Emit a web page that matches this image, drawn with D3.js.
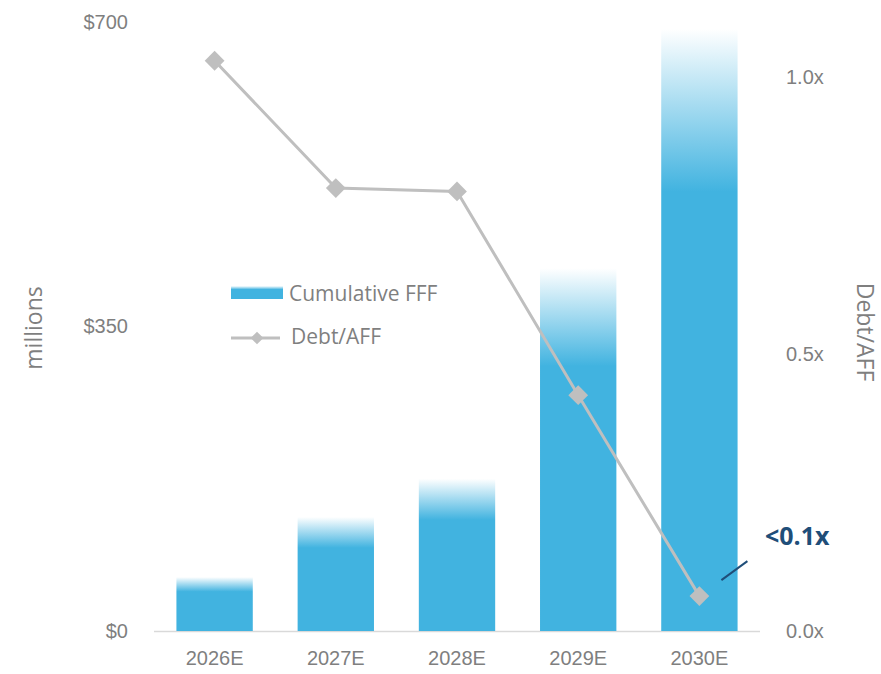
<!DOCTYPE html>
<meta charset="utf-8">
<style>
body,html{ margin:0; padding:0; background:#fff; }
svg{ display:block; font-family:"Open Sans","Liberation Sans",sans-serif; }
.tick text{ fill:#7f7f7f; font-size:20px; }
</style>
<svg width="881" height="674"></svg>
<script src="https://cdn.jsdelivr.net/npm/d3@7"></script>
<script>
var years = ["2026E","2027E","2028E","2029E","2030E"];
var fff = [62, 131, 175, 417, 692];           // cumulative FFF, $ millions
var debtAff = [1.03, 0.80, 0.794, 0.426, 0.063]; // Debt/AFF, x
var leftTicks = [0, 350, 700];
var rightTicks = [0, 0.5, 1.0];

var svg = d3.select("svg");
var m = {left:154, right:760, top:22, bottom:631};

var x = d3.scaleBand().domain(years).range([m.left, m.right]).paddingInner(0.37).paddingOuter(0.185);
var yL = d3.scaleLinear().domain([0,700]).range([m.bottom, m.top]);
var yR = d3.scaleLinear().domain([0,1.1]).range([m.bottom, m.top]);

var defs = svg.append("defs");
var grad = defs.append("linearGradient").attr("id","barGrad").attr("x1",0).attr("y1",0).attr("x2",0).attr("y2",1);
grad.append("stop").attr("offset","0%").attr("stop-color","#41b3e0").attr("stop-opacity",0);
grad.append("stop").attr("offset","27%").attr("stop-color","#41b3e0").attr("stop-opacity",1);
grad.append("stop").attr("offset","100%").attr("stop-color","#41b3e0").attr("stop-opacity",1);

// baseline
svg.append("line").attr("x1",m.left).attr("x2",m.right).attr("y1",m.bottom+0.5).attr("y2",m.bottom+0.5)
  .attr("stroke","#d9d9d9").attr("stroke-width",1.5);

svg.append("g").selectAll("rect").data(fff).enter().append("rect")
  .attr("x",(d,i)=>x(years[i]))
  .attr("width",x.bandwidth())
  .attr("y",d=>yL(d))
  .attr("height",d=>yL(0)-yL(d))
  .attr("fill","url(#barGrad)");

// line
var line = d3.line().x((d,i)=>x(years[i])+x.bandwidth()/2).y(d=>yR(d));
svg.append("path").datum(debtAff).attr("d",line).attr("fill","none")
  .attr("stroke","#bfbfbf").attr("stroke-width",3);
svg.append("g").selectAll("rect").data(debtAff).enter().append("rect")
  .attr("x",-7).attr("y",-7).attr("width",14).attr("height",14)
  .attr("fill","#bfbfbf")
  .attr("transform",(d,i)=>"translate("+(x(years[i])+x.bandwidth()/2)+","+yR(d)+") rotate(45)");

// axes
var axL = svg.append("g").attr("transform","translate("+(m.left-23)+",0)")
  .call(d3.axisLeft(yL).tickValues(leftTicks).tickSize(0).tickFormat(d=>"$"+d));
var axR = svg.append("g").attr("transform","translate("+(m.right+20)+",0)")
  .call(d3.axisRight(yR).tickValues(rightTicks).tickSize(0).tickFormat(d=>d.toFixed(1)+"x"));
var axX = svg.append("g").attr("transform","translate(0,"+(m.bottom+17)+")")
  .call(d3.axisBottom(x).tickSize(0));
[axL,axR,axX].forEach(a=>a.select(".domain").remove());
axL.selectAll("text").attr("dx",0);
axR.selectAll("text").attr("dx",3);

// axis titles
svg.append("text").attr("transform","translate(42,328) rotate(-90)").attr("text-anchor","middle")
  .attr("fill","#7f7f7f").attr("font-size",23).text("millions");
svg.append("text").attr("transform","translate(857,332) rotate(90)").attr("text-anchor","middle")
  .attr("fill","#7f7f7f").attr("font-size",23).text("Debt/AFF");

// legend
var lg = svg.append("g");
lg.append("rect").attr("x",231).attr("y",286).attr("width",52).attr("height",13).attr("fill","url(#barGrad)");
lg.append("text").attr("x",289).attr("y",301).attr("fill","#7f7f7f").attr("font-size",21).text("Cumulative FFF");
lg.append("line").attr("x1",231).attr("x2",280).attr("y1",338).attr("y2",338).attr("stroke","#bfbfbf").attr("stroke-width",3);
lg.append("rect").attr("x",-4.5).attr("y",-4.5).attr("width",9).attr("height",9).attr("fill","#bfbfbf")
  .attr("transform","translate(257,338) rotate(45)");
lg.append("text").attr("x",291).attr("y",344).attr("fill","#7f7f7f").attr("font-size",21).text("Debt/AFF");

// annotation
var px = x(years[4])+x.bandwidth()/2, py = yR(debtAff[4]);
svg.append("line").attr("x1",px+22).attr("y1",py-16).attr("x2",px+48).attr("y2",py-35)
  .attr("stroke","#1f4e79").attr("stroke-width",2);
svg.append("text").attr("x",765).attr("y",545).attr("fill","#1f4e79").attr("font-size",25)
  .attr("font-weight","bold").text("<0.1x");
</script>
